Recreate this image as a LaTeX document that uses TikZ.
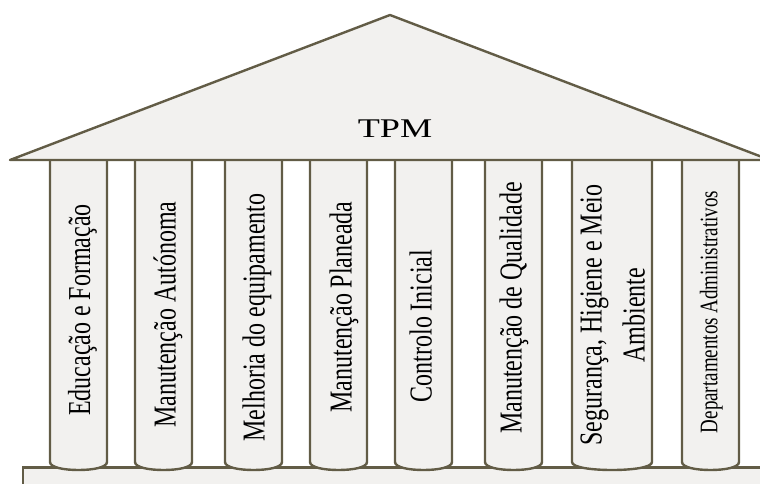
\documentclass[tikz,border=0pt]{standalone}
\usepackage{fontspec}
\setmainfont{Liberation Serif}
\usepackage{graphicx}
\definecolor{edge}{RGB}{98,92,70}
\definecolor{stone}{RGB}{242,241,239}
\tikzset{
  pillar/.style={draw=edge, fill=stone, line width=2.4pt},
  lbl/.style={inner sep=0pt, font=\fontsize{24}{28}\selectfont},
  lblsmall/.style={inner sep=0pt, font=\fontsize{19}{22}\selectfont},
}
\newcommand{\vtext}[1]{\scalebox{1.33}[1]{\rotatebox{90}{\smash{#1}\rule{0pt}{0.662em}}}}
\begin{document}
\begin{tikzpicture}[x=1pt,y=-1pt]
\useasboundingbox (0,0) rectangle (760,483);
\clip (0,0) rectangle (760,483);
% base
\draw[pillar] (23,467.5) rectangle (775,495);
% pillars
\foreach \xl/\xr in {50/107,135/192,225/282,310/367,395/452,485/542,572/652,682/739}{
  \draw[pillar] (\xl,160) -- (\xl,462)
    .. controls (\xl,467.5) and ({\xl+0.25*(\xr-\xl)},470) .. ({(\xl+\xr)/2},470)
    .. controls ({\xr-0.25*(\xr-\xl)},470) and (\xr,467.5) .. (\xr,462) -- (\xr,160);
}
% roof
\draw[pillar, line join=round] (10,160) -- (390,15) -- (770,160) -- cycle;
\node[font=\fontsize{27}{30}\selectfont, anchor=base, inner sep=0pt] (tpm) at (395,137) {\scalebox{1.34}[1]{TPM}};
% labels
\node[lbl] (p1) at (79.5,310) {\vtext{Educação e Formação}};
\node[lbl] (p2) at (165,314.5) {\vtext{Manutenção Autónoma}};
\node[lbl] (p3) at (254,317.5) {\vtext{Melhoria do equipamento}};
\node[lbl] (p4) at (341,307) {\vtext{Manutenção Planeada}};
\node[lbl] (p5) at (421,326) {\vtext{Controlo Inicial}};
\node[lbl] (p6) at (511,308) {\vtext{Manutenção de Qualidade}};
\node[lbl] (p7a) at (591,315) {\vtext{Segurança, Higiene e Meio}};
\node[lbl] (p7b) at (634,315) {\vtext{Ambiente}};
\node[lblsmall] (p8) at (709,312) {\vtext{Departamentos Administrativos}};
\end{tikzpicture}
\end{document}
